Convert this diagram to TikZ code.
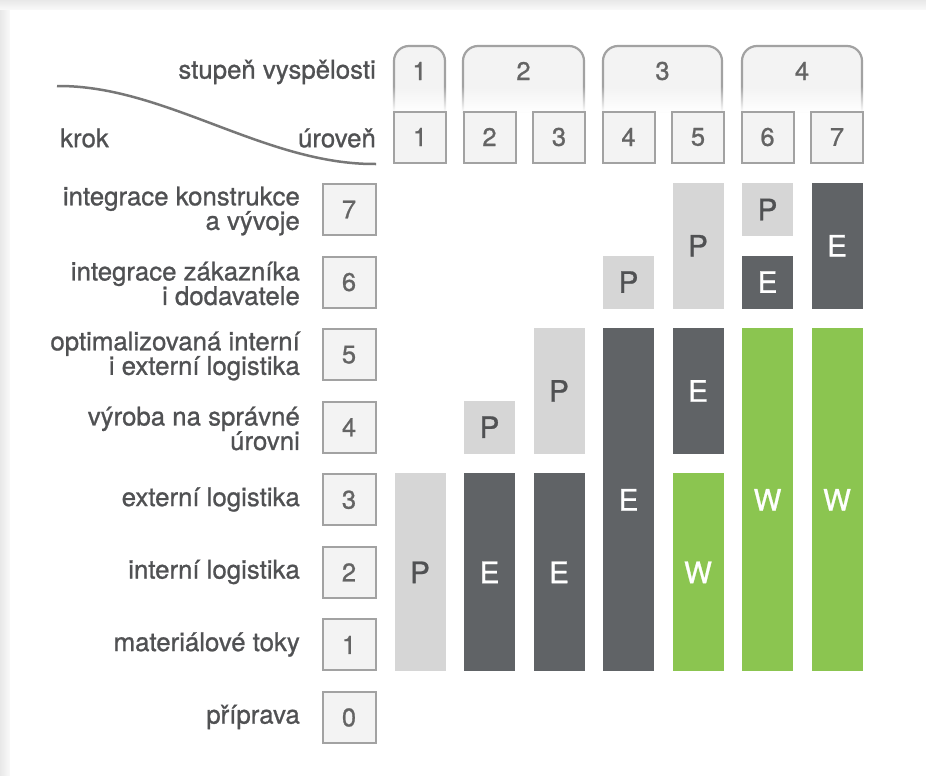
\documentclass[tikz,border=0pt]{standalone}
\usepackage{fontspec}
\setmainfont{TeX Gyre Heros}[FakeBold=0.9]
\usetikzlibrary{fadings}
\definecolor{txt}{HTML}{505153}
\definecolor{numtxt}{HTML}{646464}
\definecolor{boxline}{HTML}{A2A2A2}
\definecolor{boxfill}{HTML}{F3F3F3}
\definecolor{pcol}{HTML}{D6D6D6}
\definecolor{ecol}{HTML}{606366}
\definecolor{wcol}{HTML}{8BC550}
\definecolor{curvecol}{HTML}{777777}
\newcommand\mybar[6]{% name, x, top, bottom, style, label
  \node[barbase,#5,minimum height={#4-#3}] (#1) at ({#2},{(#3+#4)/2}) {#6};}
\begin{document}
\begin{tikzpicture}[x=1pt,y=-1pt,
  numbox/.style={draw=boxline,fill=boxfill,line width=2pt,inner sep=0pt,
    minimum width=52pt,minimum height=51pt,text=numtxt,font=\fontsize{25.5}{28}\selectfont},
  steplabel/.style={anchor=east,align=right,text=txt,inner sep=0pt,
    font=\fontsize{25.8}{24.5}\selectfont},
  headlabel/.style={text=txt,inner sep=0pt,font=\fontsize{25.8}{24.5}\selectfont},
  tabshape/.style={draw=boxline,fill=boxfill,line width=2.2pt,rounded corners=15pt},
  tabtext/.style={text=numtxt,inner sep=0pt,font=\fontsize{25.5}{28}\selectfont},
  barbase/.style={inner sep=0pt,minimum width=51pt,font=\fontsize{29.5}{30}\selectfont},
  pbar/.style={fill=pcol,text=txt},
  ebar/.style={fill=ecol,text=white},
  wbar/.style={fill=wcol,text=white}]
\useasboundingbox (0,0) rectangle (926,776);
% panel shadow
\fill[left color=black!9,right color=black!2] (0,0) rectangle (10,776);
\fill[top color=black!9,bottom color=black!2] (0,0) rectangle (926,10);
\fill[white] (10,10) rectangle (926,776);
% header curve and labels
\coordinate (cs) at (57,86);
\coordinate (ce) at (376,164);
\draw[curvecol,line width=2.5pt] (cs) .. controls (165,85) and (265,165) .. (ce);
\node[headlabel,anchor=east] (stupen) at (376,72) {stupeň vyspělosti};
\node[headlabel,anchor=east] (uroven) at (376,138) {úroveň};
\node[headlabel,anchor=west] (krok) at (60,138) {krok};
% maturity tabs
\foreach \nm/\xa/\xb/\lab in {t1/394/445/1,t2/463/584/2,t3/603/722/3,t4/742/862/4}{
  \filldraw[tabshape] (\xa,112) -- (\xa,46) -- (\xb,46) -- (\xb,112);
  \fill[white,path fading=north] (\xa-3,86) rectangle (\xb+3,112);
  \node[tabtext] (\nm) at ({(\xa+\xb)/2},71) {\lab};
}
% level boxes
\foreach \i in {1,...,7}{
  \node[numbox] (l\i) at ({420+69.5*(\i-1)},137) {\i};
}
% step boxes
\foreach \k in {0,...,7}{
  \node[numbox,minimum width=53pt] (s\k) at (349,{717.5-72.57*\k}) {\k};
}
% step labels
\node[steplabel] (lab7) at (300,211) {integrace konstrukce\\a vývoje};
\node[steplabel] (lab6) at (300,283.5) {integrace zákazníka\\i dodavatele};
\node[steplabel] (lab5) at (300,356) {optimalizovaná interní\\i externí logistika};
\node[steplabel] (lab4) at (300,428.5) {výroba na správné\\úrovni};
\node[steplabel] (lab3) at (300,499.5) {externí logistika};
\node[steplabel] (lab2) at (300,572) {interní logistika};
\node[steplabel] (lab1) at (300,644.5) {materiálové toky};
\node[steplabel] (lab0) at (300,717) {příprava};
% bars
\mybar{b1a}{420}{473.29}{671.43}{pbar}{P}
\mybar{b2a}{489.5}{473.29}{671.43}{ebar}{E}
\mybar{b2b}{489.5}{400.72}{453.72}{pbar}{P}
\mybar{b3a}{559}{473.29}{671.43}{ebar}{E}
\mybar{b3b}{559}{328.15}{453.72}{pbar}{P}
\mybar{b4a}{628.5}{328.15}{671.43}{ebar}{E}
\mybar{b4b}{628.5}{255.58}{308.58}{pbar}{P}
\mybar{b5a}{698}{473.29}{671.43}{wbar}{W}
\mybar{b5b}{698}{328.15}{453.72}{ebar}{E}
\mybar{b5c}{698}{183.01}{308.58}{pbar}{P}
\mybar{b6a}{767.5}{328.15}{671.43}{wbar}{W}
\mybar{b6b}{767.5}{255.58}{308.58}{ebar}{E}
\mybar{b6c}{767.5}{183.01}{236.01}{pbar}{P}
\mybar{b7a}{837}{328.15}{671.43}{wbar}{W}
\mybar{b7b}{837}{183.01}{308.58}{ebar}{E}
\end{tikzpicture}
\end{document}
